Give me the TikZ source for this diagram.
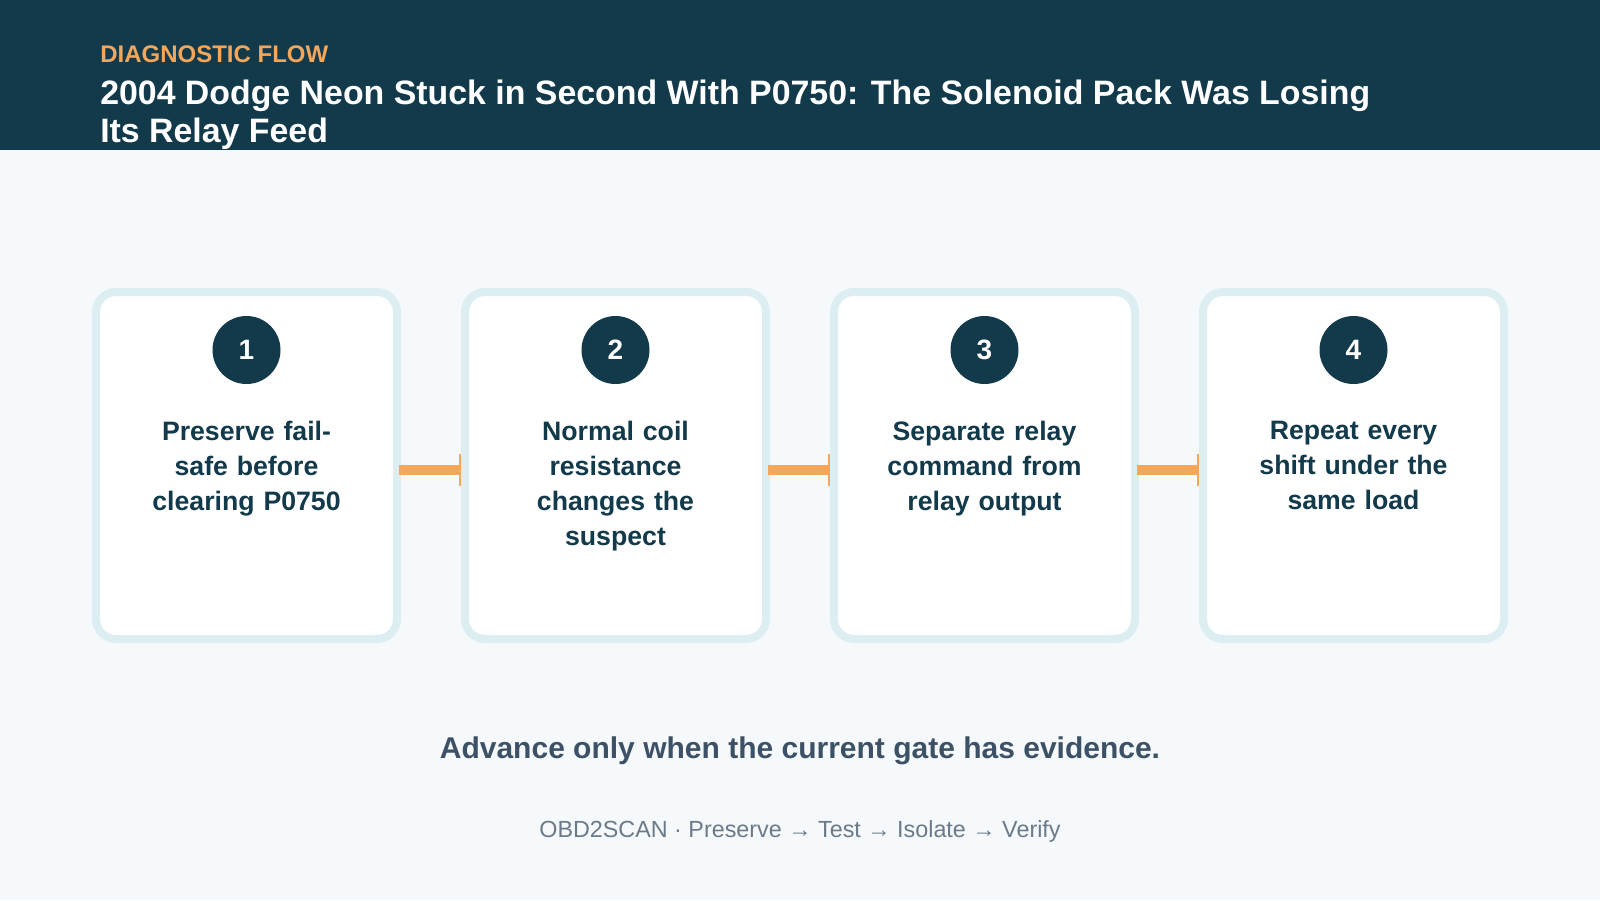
\documentclass[tikz,border=0pt]{standalone}
\usepackage{fontspec}
\setmainfont{Liberation Sans}
\definecolor{navy}{HTML}{123A4B}
\definecolor{bg}{HTML}{F5F9FC}
\definecolor{orng}{HTML}{F4A65B}
\definecolor{rim}{HTML}{DCEEF2}
\definecolor{slate}{HTML}{3D5166}
\definecolor{gry}{HTML}{6B7A89}
\begin{document}
\begin{tikzpicture}[x=0.75pt,y=-0.75pt,
  num/.style={circle,fill=navy,minimum size=51pt,inner sep=0pt,text=white,font=\bfseries\fontsize{21}{25}\selectfont},
  steptext/.style={align=center,text=navy,text width=170pt,font=\bfseries\fontsize{20}{26.3}\selectfont,anchor=north}]
\useasboundingbox (0,0) rectangle (1600,900);
\fill[bg] (0,0) rectangle (1600,900);
\fill[navy] (0,0) rectangle (1600,150);
\node[anchor=base west,text=orng,font=\bfseries\fontsize{18}{20}\selectfont,inner sep=0pt] (kick) at (100,62) {DIAGNOSTIC FLOW};
\node[anchor=base west,text=white,font=\bfseries\fontsize{25.4}{28}\selectfont,inner sep=0pt] (t1) at (100,104) {2004 Dodge Neon Stuck in Second With P0750: The Solenoid Pack Was Losing};
\node[anchor=base west,text=white,font=\bfseries\fontsize{25.4}{28}\selectfont,inner sep=0pt] (t2) at (100,142) {Its Relay Feed};
\foreach \i/\x/\t in {1/92/{Preserve fail-\\safe before\\clearing P0750},2/461/{Normal coil\\resistance\\changes the\\suspect},3/830/{Separate relay\\command from\\relay output},4/1199/{Repeat every\\shift under the\\same load}}{
  \draw[draw=rim,line width=6pt,fill=white,rounded corners=15pt] (\x+4,292) rectangle (\x+305,639);
  \node[num] (n\i) at (\x+154.5,350) {\i};
  \node[steptext] (s\i) at (\x+154.5,416) {\t};
}
\foreach \x in {399,768,1137}{
  \fill[orng] (\x,465) rectangle (\x+62,475);
  \fill[orng] (\x+60,454) rectangle (\x+62,486);
}
\node[text=slate,font=\bfseries\fontsize{22.5}{25}\selectfont] (adv) at (800,751) {Advance only when the current gate has evidence.};
\node[text=gry,font=\fontsize{17.5}{20}\selectfont] (foot) at (800,831) {OBD2SCAN · Preserve → Test → Isolate → Verify};
\end{tikzpicture}
\end{document}
